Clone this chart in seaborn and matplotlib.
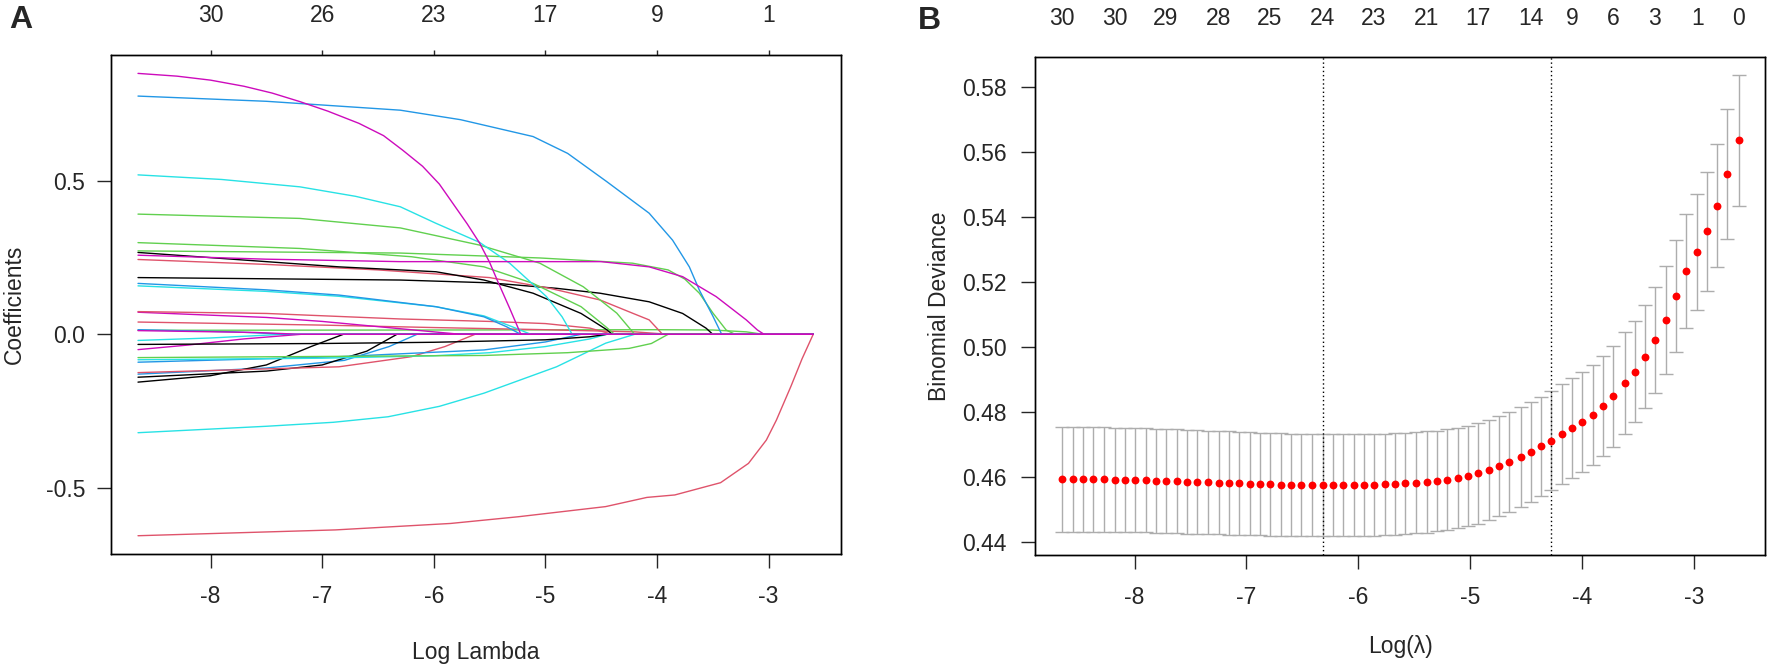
import matplotlib
matplotlib.use("Agg")
import matplotlib.pyplot as plt
import seaborn as sns
import pandas as pd

sns.set_style("white")
plt.rcParams['font.family'] = ['Liberation Sans', 'DejaVu Sans']
plt.rcParams['font.size'] = 16.5
plt.rcParams['axes.unicode_minus'] = False

BLACK, RED, GREEN, BLUE, CYAN, MAGENTA = "#000000", "#DF536B", "#61D04F", "#2297E6", "#28E2E5", "#CD0BBC"

# ---------------- Panel A: coefficient paths (log lambda, coefficient) ----------------
path_01 = [(-8.65, 0.851), (-8.3, 0.842), (-8.0, 0.829), (-7.7, 0.809), (-7.45, 0.787), (-7.2, 0.759), (-6.95, 0.728),
           (-6.67, 0.688), (-6.45, 0.648), (-6.28, 0.601), (-6.1, 0.548), (-5.95, 0.49), (-5.85, 0.438), (-5.7, 0.36),
           (-5.59, 0.298), (-5.5, 0.235), (-5.42, 0.167), (-5.32, 0.085), (-5.22, 0.0), (-2.6, 0.0)]
path_02 = [(-8.65, 0.777), (-7.5, 0.76), (-6.3, 0.731), (-5.76, 0.70), (-5.11, 0.645), (-4.8, 0.59), (-4.45, 0.498),
           (-4.07, 0.395), (-3.86, 0.307), (-3.71, 0.22), (-3.62, 0.144), (-3.5, 0.06), (-3.42, 0.0), (-2.6, 0.0)]
path_03 = [(-8.65, 0.52), (-7.9, 0.505), (-7.2, 0.481), (-6.7, 0.45), (-6.3, 0.416), (-5.98, 0.362), (-5.59, 0.30),
           (-5.32, 0.232), (-4.99, 0.123), (-4.85, 0.057), (-4.76, 0.0), (-2.6, 0.0)]
path_04 = [(-8.65, 0.392), (-7.2, 0.378), (-6.3, 0.347), (-5.59, 0.291), (-5.05, 0.232), (-4.66, 0.155), (-4.36, 0.069),
           (-4.2, 0.0), (-2.6, 0.0)]
path_05 = [(-8.65, 0.299), (-7.2, 0.28), (-6.2, 0.253), (-5.55, 0.22), (-5.11, 0.166), (-4.68, 0.09), (-4.46, 0.025),
           (-4.38, 0.0), (-2.6, 0.0)]
path_06 = [(-8.65, 0.272), (-6.3, 0.265), (-5.05, 0.249), (-4.22, 0.232), (-3.9, 0.21), (-3.75, 0.18), (-3.62, 0.134),
           (-3.5, 0.07), (-3.38, 0.014), (-3.3, 0.0), (-2.6, 0.0)]
path_07 = [(-8.65, 0.258), (-7.5, 0.245), (-6.3, 0.237), (-4.5, 0.237), (-4.07, 0.22), (-3.77, 0.188), (-3.47, 0.123),
           (-3.2, 0.047), (-3.1, 0.014), (-3.04, 0.0), (-2.6, 0.0)]
path_08 = [(-8.65, 0.267), (-6.85, 0.22), (-6.3, 0.21), (-5.98, 0.204), (-5.55, 0.177), (-5.11, 0.134), (-4.68, 0.068),
           (-4.45, 0.015), (-4.4, 0.0), (-2.6, 0.0)]
path_09 = [(-8.65, 0.244), (-7.5, 0.228), (-6.5, 0.21), (-5.5, 0.185), (-4.96, 0.15), (-4.51, 0.112), (-4.22, 0.069),
           (-4.07, 0.047), (-3.95, 0.0), (-2.6, 0.0)]
path_10 = [(-8.65, 0.185), (-6.3, 0.177), (-5.5, 0.168), (-4.9, 0.15), (-4.51, 0.134), (-4.07, 0.106), (-3.77, 0.068),
           (-3.56, 0.02), (-3.5, 0.0), (-2.6, 0.0)]
path_11 = [(-8.65, 0.166), (-7.5, 0.145), (-6.85, 0.128), (-5.98, 0.09), (-5.55, 0.057), (-5.35, 0.025), (-5.22, 0.0), (-2.6, 0.0)]
path_12 = [(-8.65, 0.158), (-7.5, 0.14), (-6.85, 0.124), (-5.98, 0.09), (-5.55, 0.06), (-5.3, 0.025), (-5.13, 0.0), (-2.6, 0.0)]
path_13 = [(-8.65, 0.074), (-7.5, 0.068), (-6.3, 0.05), (-5.5, 0.042), (-5.0, 0.035), (-4.6, 0.02), (-4.4, 0.0), (-2.6, 0.0)]
path_14 = [(-8.65, 0.072), (-7.5, 0.055), (-7.0, 0.042), (-6.5, 0.025), (-6.0, 0.008), (-5.76, 0.0), (-2.6, 0.0)]
path_15 = [(-8.65, 0.04), (-7.0, 0.03), (-6.0, 0.022), (-5.0, 0.015), (-4.2, 0.008), (-3.9, 0.0), (-2.6, 0.0)]
path_16 = [(-8.65, 0.015), (-7.8, 0.008), (-7.3, 0.0), (-2.6, 0.0)]
path_17 = [(-8.65, 0.012), (-7.6, 0.006), (-7.19, 0.0), (-2.6, 0.0)]
path_18 = [(-8.65, 0.013), (-6.0, 0.014), (-4.0, 0.015), (-3.5, 0.014), (-3.2, 0.008), (-3.05, 0.0), (-2.6, 0.0)]
path_19 = [(-8.65, -0.033), (-7.0, -0.03), (-6.0, -0.026), (-5.0, -0.018), (-4.6, -0.008), (-4.45, 0.0), (-2.6, 0.0)]
path_20 = [(-8.65, -0.05), (-8.2, -0.035), (-7.7, -0.015), (-7.19, 0.0), (-2.6, 0.0)]
path_21 = [(-8.65, -0.02), (-8.0, -0.012), (-7.35, 0.0), (-2.6, 0.0)]
path_22 = [(-8.65, -0.076), (-5.55, -0.069), (-4.8, -0.06), (-4.25, -0.046), (-4.05, -0.03), (-3.9, 0.0), (-2.6, 0.0)]
path_23 = [(-8.65, -0.083), (-7.0, -0.078), (-6.0, -0.07), (-5.5, -0.06), (-5.0, -0.04), (-4.6, -0.015), (-4.45, 0.0), (-2.6, 0.0)]
path_24 = [(-8.65, -0.091), (-6.85, -0.073), (-5.55, -0.051), (-5.0, -0.025), (-4.68, 0.0), (-2.6, 0.0)]
path_25 = [(-8.65, -0.125), (-6.85, -0.106), (-6.2, -0.073), (-5.9, -0.04), (-5.63, 0.0), (-2.6, 0.0)]
path_26 = [(-8.65, -0.14), (-7.5, -0.12), (-7.0, -0.1), (-6.6, -0.055), (-6.33, 0.0), (-2.6, 0.0)]
path_27 = [(-8.65, -0.156), (-8.0, -0.135), (-7.5, -0.1), (-7.1, -0.04), (-6.81, 0.0), (-2.6, 0.0)]
path_28 = [(-8.65, -0.13), (-7.5, -0.11), (-6.8, -0.085), (-6.4, -0.04), (-6.15, 0.0), (-2.6, 0.0)]
path_29 = [(-8.65, -0.321), (-7.5, -0.3), (-6.9, -0.287), (-6.41, -0.269), (-5.95, -0.235), (-5.55, -0.192),
           (-4.9, -0.106), (-4.46, -0.029), (-4.2, 0.0), (-2.6, 0.0)]
path_30 = [(-8.65, -0.657), (-6.88, -0.638), (-5.85, -0.617), (-5.24, -0.595), (-4.46, -0.562), (-4.09, -0.532),
           (-3.84, -0.524), (-3.43, -0.484), (-3.18, -0.421), (-3.02, -0.345), (-2.93, -0.28), (-2.8, -0.17),
           (-2.7, -0.08), (-2.6, 0.0)]

paths_a = [(path_30, RED), (path_29, CYAN), (path_28, BLUE), (path_27, BLACK), (path_26, BLACK), (path_25, RED),
           (path_24, BLUE), (path_23, CYAN), (path_22, GREEN), (path_21, CYAN), (path_20, MAGENTA), (path_19, BLACK),
           (path_18, GREEN), (path_16, BLUE), (path_15, RED), (path_14, MAGENTA), (path_13, RED),
           (path_12, CYAN), (path_11, BLUE), (path_10, BLACK), (path_09, RED), (path_08, BLACK), (path_06, GREEN),
           (path_05, GREEN), (path_04, GREEN), (path_03, CYAN), (path_02, BLUE), (path_01, MAGENTA),
           (path_07, MAGENTA), (path_17, MAGENTA)]

a_xticks = [-8, -7, -6, -5, -4, -3]
a_xticklabels = ["-8", "-7", "-6", "-5", "-4", "-3"]
a_yticks = [-0.5, 0.0, 0.5]
a_yticklabels = ["-0.5", "0.0", "0.5"]
a_top_labels = ["30", "26", "23", "17", "9", "1"]

# ---------------- Panel B: cross-validation curve ----------------
log_lambda_b = [-8.65, -8.55, -8.46, -8.37, -8.27, -8.18, -8.09, -8.00, -7.90, -7.81, -7.72, -7.62, -7.53, -7.44,
                -7.34, -7.25, -7.16, -7.07, -6.97, -6.88, -6.79, -6.69, -6.60, -6.51, -6.41, -6.32, -6.23, -6.14,
                -6.04, -5.95, -5.86, -5.76, -5.67, -5.58, -5.48, -5.39, -5.30, -5.21, -5.11, -5.02, -4.93, -4.83,
                -4.74, -4.65, -4.55, -4.46, -4.37, -4.28, -4.18, -4.09, -4.00, -3.90, -3.81, -3.72, -3.62, -3.53,
                -3.44, -3.35, -3.25, -3.16, -3.07, -2.97, -2.88, -2.79, -2.70, -2.60]
cv_mean = [0.4592, 0.4592, 0.4592, 0.4592, 0.4592, 0.4591, 0.4590, 0.4590, 0.4589, 0.4588, 0.4587, 0.4586, 0.4585,
           0.4584, 0.4583, 0.4582, 0.4581, 0.4580, 0.4579, 0.4578, 0.4577, 0.4576, 0.4575, 0.4574, 0.4574, 0.4573,
           0.4573, 0.4574, 0.4574, 0.4575, 0.4576, 0.4577, 0.4578, 0.4580, 0.4582, 0.4584, 0.4587, 0.4591, 0.4596,
           0.4602, 0.4610, 0.4620, 0.4632, 0.4645, 0.4660, 0.4676, 0.4693, 0.4711, 0.4731, 0.4749, 0.4768, 0.4789,
           0.4818, 0.4847, 0.4888, 0.4923, 0.4970, 0.5021, 0.5083, 0.5157, 0.5234, 0.5291, 0.5355, 0.5434, 0.5532,
           0.5636]
cv_se = [0.0161, 0.0161, 0.0161, 0.0161, 0.0161, 0.0160, 0.0160, 0.0160, 0.0160, 0.0160, 0.0160, 0.0160, 0.0160,
         0.0159, 0.0159, 0.0159, 0.0159, 0.0159, 0.0159, 0.0158, 0.0158, 0.0158, 0.0158, 0.0158, 0.0158, 0.0157,
         0.0157, 0.0157, 0.0157, 0.0157, 0.0157, 0.0156, 0.0156, 0.0156, 0.0156, 0.0156, 0.0155, 0.0155, 0.0155,
         0.0155, 0.0155, 0.0154, 0.0154, 0.0154, 0.0154, 0.0153, 0.0153, 0.0153, 0.0153, 0.0154, 0.0154, 0.0154,
         0.0154, 0.0156, 0.0156, 0.0156, 0.0159, 0.0162, 0.0167, 0.0172, 0.0176, 0.0179, 0.0183, 0.0189, 0.0199,
         0.0202]
lambda_min_log = -6.32
lambda_1se_log = -4.28
b_top_index = [0, 5, 10, 15, 20, 25, 30, 35, 40, 45, 49, 53, 57, 61, 65]
b_top_labels = ["30", "30", "29", "28", "25", "24", "23", "21", "17", "14", "9", "6", "3", "1", "0"]
b_xticks = [-8, -7, -6, -5, -4, -3]
b_xticklabels = ["-8", "-7", "-6", "-5", "-4", "-3"]
b_yticks = [0.44, 0.46, 0.48, 0.50, 0.52, 0.54, 0.56, 0.58]
b_yticklabels = ["0.44", "0.46", "0.48", "0.50", "0.52", "0.54", "0.56", "0.58"]

# ---------------- figure ----------------
W, H = 1772, 670
fig = plt.figure(figsize=(W / 100, H / 100), dpi=100)
axA = fig.add_axes([111 / W, 1 - 554 / H, (841 - 111) / W, (554 - 55) / H])
axB = fig.add_axes([1035 / W, 1 - 555 / H, (1765 - 1035) / W, (555 - 57) / H])

for p, col in paths_a:
    df = pd.DataFrame(p, columns=["loglam", "coef"])
    sns.lineplot(data=df, x="loglam", y="coef", ax=axA, color=col, lw=1.0, sort=False, estimator=None)

axA.set_xlim(-8.892, -2.351)
axA.set_ylim(-0.7166, 0.911)
axA.set_xticks(a_xticks, a_xticklabels)
axA.set_yticks(a_yticks, a_yticklabels)
axA.tick_params(axis="x", direction="out", length=10, width=1, pad=12, bottom=True)
axA.tick_params(axis="y", direction="out", length=10, width=1, pad=8.5, left=True)
axA.set_xlabel("Log Lambda")
axA.set_ylabel("Coefficients")
axA.xaxis.set_label_coords(0.5, -0.1964)
axA.xaxis.label.set_va("center")
axA.yaxis.set_label_coords(-0.1322, 0.5)
axA.yaxis.label.set_va("center")
topA = axA.twiny()
topA.set_xlim(axA.get_xlim())
topA.set_xticks(a_xticks, a_top_labels)
topA.tick_params(axis="x", direction="out", length=3.6, width=1, pad=16.5, top=True)
for ax in (axA, topA):
    for s in ax.spines.values():
        s.set_linewidth(1.0)
        s.set_color("black")

# Panel B
df_b = pd.DataFrame({"loglam": log_lambda_b, "dev": cv_mean, "se": cv_se})
axB.errorbar(df_b["loglam"], df_b["dev"], yerr=df_b["se"], fmt="none", ecolor="#ADADAD",
             elinewidth=1.0, capsize=4.7, capthick=1.0, zorder=1)
sns.scatterplot(data=df_b, x="loglam", y="dev", ax=axB, color="#FF0000", s=32, linewidth=0, zorder=3)
axB.axvline(lambda_min_log, color="black", lw=1.0, ls=(0, (1, 2)), zorder=2)
axB.axvline(lambda_1se_log, color="black", lw=1.0, ls=(0, (1, 2)), zorder=2)
axB.set_xlim(-8.891, -2.364)
axB.set_ylim(0.4359, 0.5892)
axB.set_xticks(b_xticks, b_xticklabels)
axB.set_yticks(b_yticks, b_yticklabels)
axB.tick_params(axis="x", direction="out", length=10, width=1, pad=12, bottom=True)
axB.tick_params(axis="y", direction="out", length=10, width=1, pad=10.5, left=True)
axB.set_xlabel("Log(λ)")
axB.set_ylabel("Binomial Deviance")
axB.xaxis.set_label_coords(0.5, -0.1847)
axB.xaxis.label.set_va("center")
axB.yaxis.set_label_coords(-0.1308, 0.5)
axB.yaxis.label.set_va("center")
topB = axB.twiny()
topB.set_xlim(axB.get_xlim())
topB.set_xticks([log_lambda_b[i] for i in b_top_index], b_top_labels)
topB.tick_params(axis="x", length=0, pad=19.5, top=True)
for ax in (axB, topB):
    for s in ax.spines.values():
        s.set_linewidth(1.0)
        s.set_color("black")

fig.text(20.5 / W, 1 - 20 / H, "A", fontsize=23, fontweight="bold", ha="center", va="center")
fig.text(929 / W, 1 - 21 / H, "B", fontsize=23, fontweight="bold", ha="center", va="center")

fig.savefig("out.png", dpi=100)
